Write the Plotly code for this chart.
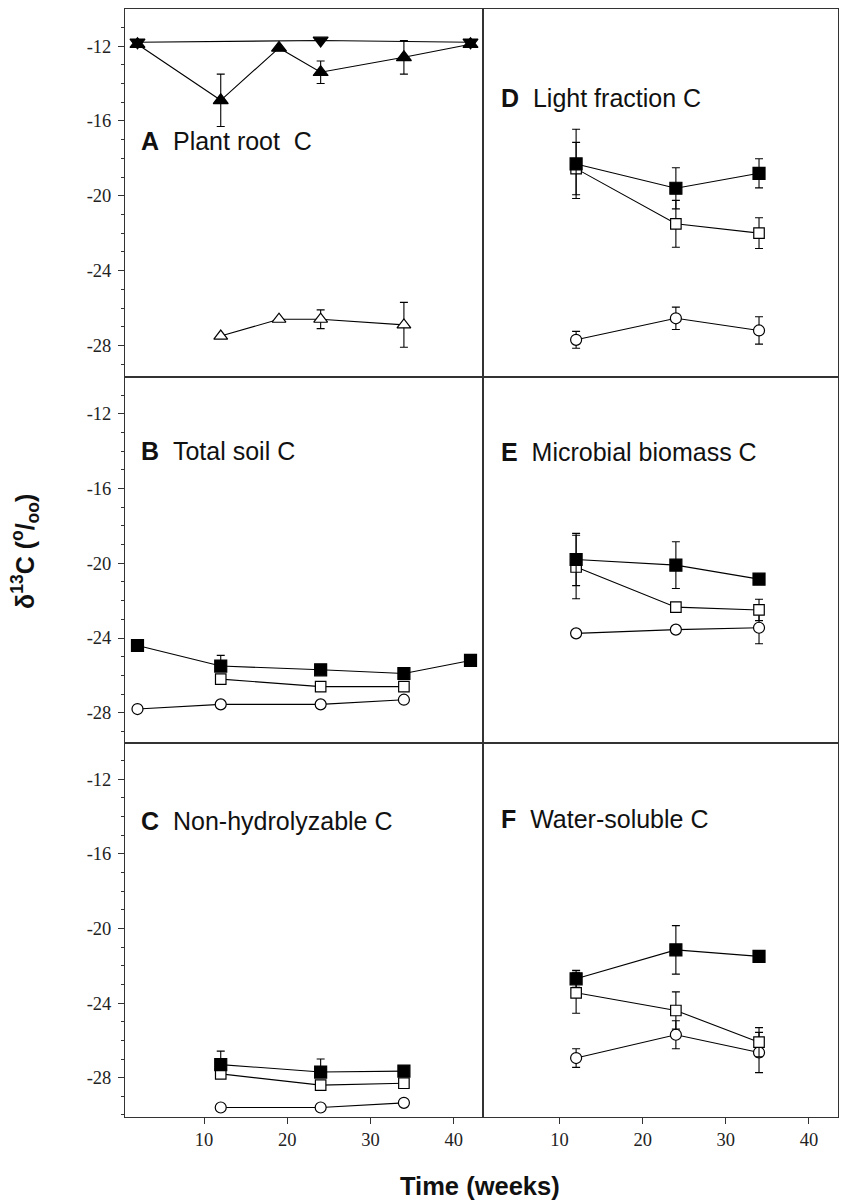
import plotly.graph_objects as go

W, H = 841, 1201

# ---------------- data ----------------
# Panel A: Plant root C
a_down_x = [2, 24, 42]
a_down_y = [-11.8, -11.7, -11.8]
a_up_x = [2, 12, 19, 24, 34, 42]
a_up_y = [-11.9, -14.9, -12.1, -13.4, -12.6, -11.9]
a_up_err = [0, 1.4, 0, 0.6, 0.9, 0]
a_open_x = [12, 19, 24, 34]
a_open_y = [-27.5, -26.6, -26.6, -26.9]
a_open_err = [0, 0, 0.5, 1.2]

# Panel B: Total soil C
b_fill_x = [2, 12, 24, 34, 42]
b_fill_y = [-24.4, -25.5, -25.7, -25.9, -25.2]
b_fill_errp = [0, 0.57, 0, 0, 0]
b_fill_errm = [0, 0, 0, 0, 0]
b_opsq_x = [12, 24, 34]
b_opsq_y = [-26.2, -26.6, -26.6]
b_circ_x = [2, 12, 24, 34]
b_circ_y = [-27.8, -27.55, -27.55, -27.3]

# Panel C: Non-hydrolyzable C
c_x = [12, 24, 34]
c_fill_y = [-27.3, -27.7, -27.65]
c_fill_errp = [0.72, 0.7, 0]
c_fill_errm = [0, 0, 0]
c_opsq_y = [-27.8, -28.4, -28.3]
c_circ_y = [-29.6, -29.6, -29.35]

# Panel D: Light fraction C
d_x = [12, 24, 34]
d_fill_y = [-18.3, -19.6, -18.8]
d_fill_err = [1.85, 1.1, 0.78]
d_opsq_y = [-18.55, -21.5, -22.0]
d_opsq_err = [1.4, 1.25, 0.82]
d_circ_y = [-27.7, -26.55, -27.2]
d_circ_err = [0.45, 0.6, 0.73]

# Panel E: Microbial biomass C
e_x = [12, 24, 34]
e_fill_y = [-19.8, -20.1, -20.85]
e_fill_err = [1.4, 1.25, 0]
e_opsq_y = [-20.2, -22.35, -22.5]
e_opsq_err = [1.7, 0, 0.57]
e_circ_y = [-23.75, -23.55, -23.45]
e_circ_err = [0, 0, 0.86]

# Panel F: Water-soluble C
f_x = [12, 24, 34]
f_fill_y = [-22.7, -21.15, -21.5]
f_fill_err = [0.45, 1.3, 0]
f_opsq_y = [-23.45, -24.4, -26.1]
f_opsq_err = [1.1, 1.0, 0.78]
f_circ_y = [-26.95, -25.7, -26.65]
f_circ_err = [0.5, 0.75, 1.08]

x_ticks = [10, 20, 30, 40]
x_tick_text = ["10", "20", "30", "40"]
y_ticks = [-12, -16, -20, -24, -28]
y_tick_text = ["-12", "-16", "-20", "-24", "-28"]

panel_labels = [("A", "Plant root\u00a0 C"), ("D", "Light fraction C"),
                ("B", "Total soil C"), ("E", "Microbial biomass C"),
                ("C", "Non-hydrolyzable C"), ("F", "Water-soluble C")]

# ---------------- layout geometry (pixels) ----------------
col_px = [(125, 483), (483, 838)]
row_px = [(9, 376.5), (376.5, 742.5), (742.5, 1117)]
x_ranges = [[0.5, 43.5], [0.8, 43.5]]
y_ranges = [[-29.66, -10.02], [-29.59, -10.01], [-30.11, -10.03]]


def xd(p):
    return p / W


def yd(p):
    return 1 - p / H


fig = go.Figure()
AX = "#333333"


def add(ax_idx, x, y, symbol, fill, size, errp=None, errm=None, lw=1.2):
    xa = "x" if ax_idx == 1 else f"x{ax_idx}"
    ya = "y" if ax_idx == 1 else f"y{ax_idx}"
    kw = {}
    if errp is not None:
        kw["error_y"] = dict(type="data", array=errp,
                             arrayminus=errm if errm is not None else errp,
                             symmetric=False, color="black", thickness=1.1, width=4)
    fig.add_trace(go.Scatter(
        x=x, y=y, mode="lines+markers", xaxis=xa, yaxis=ya,
        line=dict(color="black", width=1.1),
        marker=dict(symbol=symbol, size=size, color=fill,
                    line=dict(color="black", width=lw)),
        showlegend=False, cliponaxis=False, **kw))


# index: 1=A, 2=D, 3=B, 4=E, 5=C, 6=F
add(1, a_open_x, a_open_y, "triangle-up", "white", 12, a_open_err)
add(1, a_down_x, a_down_y, "triangle-down", "black", 13)
add(1, a_up_x, a_up_y, "triangle-up", "black", 13, a_up_err)

add(2, d_x, d_circ_y, "circle", "white", 11, d_circ_err)
add(2, d_x, d_opsq_y, "square", "white", 10.5, d_opsq_err)
add(2, d_x, d_fill_y, "square", "black", 12, d_fill_err)

add(3, b_circ_x, b_circ_y, "circle", "white", 11)
add(3, b_opsq_x, b_opsq_y, "square", "white", 10.5)
add(3, b_fill_x, b_fill_y, "square", "black", 12, b_fill_errp, b_fill_errm)

add(4, e_x, e_circ_y, "circle", "white", 11, e_circ_err)
add(4, e_x, e_opsq_y, "square", "white", 10.5, e_opsq_err)
add(4, e_x, e_fill_y, "square", "black", 12, e_fill_err)

add(5, c_x, c_circ_y, "circle", "white", 11)
add(5, c_x, c_opsq_y, "square", "white", 10.5)
add(5, c_x, c_fill_y, "square", "black", 12, c_fill_errp, c_fill_errm)

add(6, f_x, f_circ_y, "circle", "white", 11, f_circ_err)
add(6, f_x, f_opsq_y, "square", "white", 10.5, f_opsq_err)
add(6, f_x, f_fill_y, "square", "black", 12, f_fill_err)

tickfont = dict(family="Liberation Serif", size=18.5, color="#222")
layout = {}
annotations = []
for r in range(3):
    for c in range(2):
        idx = r * 2 + c + 1
        xk = "xaxis" if idx == 1 else f"xaxis{idx}"
        yk = "yaxis" if idx == 1 else f"yaxis{idx}"
        xa = "x" if idx == 1 else f"x{idx}"
        ya = "y" if idx == 1 else f"y{idx}"
        bottom = (r == 2)
        left = (c == 0)
        layout[xk] = dict(
            domain=[xd(col_px[c][0]), xd(col_px[c][1])], range=x_ranges[c],
            anchor=ya, showgrid=False, zeroline=False,
            showline=True, mirror=True, linecolor=AX, linewidth=1,
            tickmode="array", tickvals=x_ticks if bottom else [],
            ticktext=x_tick_text if bottom else [],
            ticks="outside" if bottom else "", ticklen=6, tickwidth=1, tickcolor=AX,
            showticklabels=bottom, tickfont=tickfont, fixedrange=True)
        ydict = dict(
            domain=[yd(row_px[r][1]), yd(row_px[r][0])], range=y_ranges[r],
            anchor=xa, showgrid=False, zeroline=False,
            showline=True, mirror=True, linecolor=AX, linewidth=1,
            tickmode="array", tickvals=y_ticks if left else [],
            ticktext=y_tick_text if left else [],
            ticks="outside" if left else "", ticklen=6, tickwidth=1, tickcolor=AX,
            showticklabels=left, tickfont=tickfont, fixedrange=True)
        if left:
            ydict["minor"] = dict(dtick=1, ticks="outside", ticklen=3, tickwidth=1,
                                  tickcolor=AX, tick0=-12, showgrid=False)
            ydict["ticklabelstandoff"] = 3
        layout[yk] = ydict
        letter, name = panel_labels[idx - 1]
        lx = 139 if left else 499
        ly = [140, 449, 819][r] if left else [96.5, 450, 817.5][r]
        annotations.append(dict(
            x=xd(lx), y=yd(ly + 1.5), xref="paper", yref="paper",
            xanchor="left", yanchor="middle", showarrow=False,
            text=f"<b>{letter}</b>\u00a0\u00a0{name}",
            font=dict(family="Liberation Sans", size=25, color="#111")))

annotations.append(dict(
    x=xd(480), y=yd(1186), xref="paper", yref="paper", showarrow=False,
    xanchor="center", yanchor="middle", text="<b>Time (weeks)</b>",
    font=dict(family="Liberation Sans", size=25.5, color="#111")))
annotations.append(dict(
    x=xd(25), y=yd(552), xref="paper", yref="paper", showarrow=False,
    xanchor="center", yanchor="middle", textangle=-90,
    text="<b>\u03b4<sup>13</sup>C (<sup>o</sup>/<sub>oo</sub>)</b>",
    font=dict(family="Liberation Sans", size=25, color="#111")))

fig.update_layout(
    width=W, height=H, margin=dict(l=0, r=0, t=0, b=0),
    paper_bgcolor="white", plot_bgcolor="white",
    annotations=annotations, **layout)

fig.write_html("out.html", config={"displayModeBar": False},
               post_script="document.body.style.margin='0';document.body.style.overflow='hidden';")
